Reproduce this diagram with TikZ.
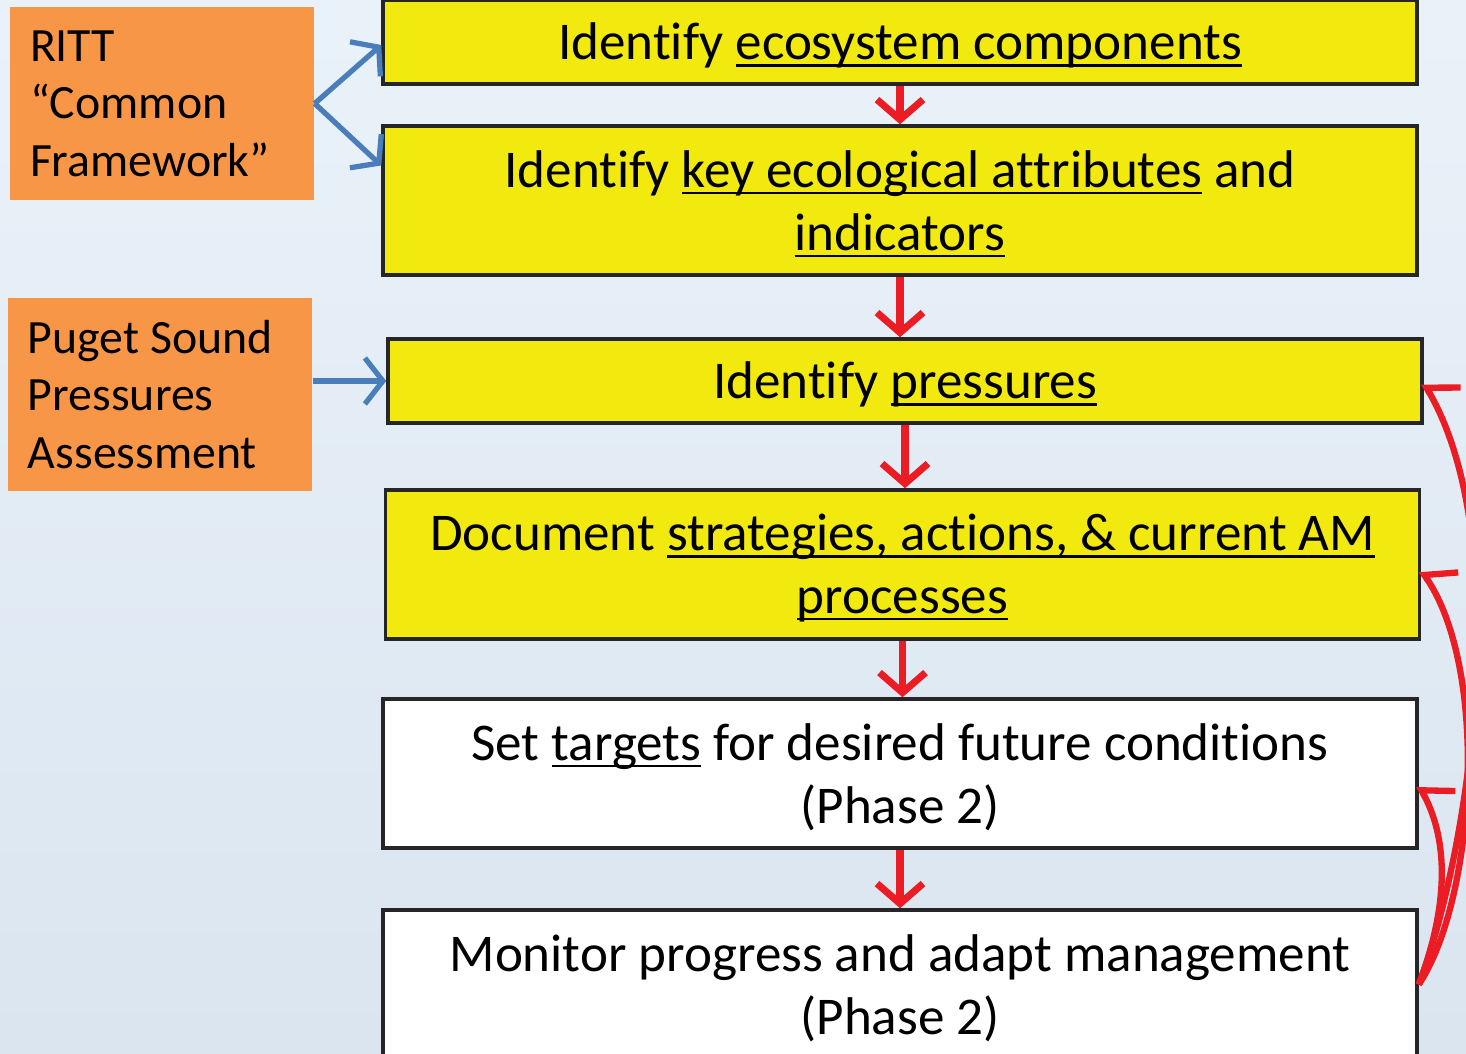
\documentclass[tikz,border=0pt]{standalone}
\usepackage{fontspec}
\setmainfont{Carlito}[Ligatures={TeX,CommonOff}]
\usepackage{tikz}
\usetikzlibrary{arrows.meta,positioning}
\definecolor{stageyellow}{HTML}{F2EA0E}
\definecolor{sourceorange}{HTML}{F79646}
\definecolor{linkblue}{HTML}{4A7EBB}
\definecolor{flowred}{HTML}{EC1C24}
\definecolor{bgtop}{HTML}{EAF2F9}
\definecolor{bgbottom}{HTML}{DAE5F0}
\newcommand\uln[1]{\leavevmode\setbox0\hbox{#1}\rlap{\rule[-2pt]{\wd0}{0.8pt}}\box0\relax}
\tikzset{
	stage/.style = {
			draw            = black!85,
			line width      = 1pt,
			rectangle,
			minimum width   = 10.34cm,
			text width      = 10.2cm,
			align           = center,
			inner sep       = 0pt,
			font            = \fontsize{15.1}{17.9}\selectfont,
			execute at begin node = {\spaceskip=\fontdimen2\font\relax},
			execute at end node = {\par\vspace{-0.07cm}}
		},
	oneline/.style = {minimum height = 0.84cm},
	twoline/.style = {minimum height = 1.49cm},
	source/.style = {
			fill            = sourceorange,
			rectangle,
			minimum width   = 3.04cm,
			minimum height  = 1.93cm,
			text width      = 2.64cm,
			align           = left,
			inner sep       = 0pt,
			font            = \fontsize{13.6}{16.4}\selectfont,
			execute at begin node = {\spaceskip=\fontdimen2\font\relax}
		},
	link/.style = {draw=linkblue, line width=1.5pt, -{Straight Barb[length=1.8mm,width=4.6mm]}},
	flow/.style = {draw=flowred, line width=2pt, -{Straight Barb[length=2mm,width=4.6mm]}},
	feedback/.style = {draw=flowred, line width=1.8pt, -{Straight Barb[angle=120:3.4mm,harpoon,swap]}}
}

\begin{document}
\begin{tikzpicture}
	\useasboundingbox (0,0) rectangle (14.66,-10.54);
	\shade[top color=bgtop, bottom color=bgbottom] (0,0) rectangle (14.66,-10.54);

	\node[source] at (1.62,-1.035) (ritt) {RITT\\``Common\\Framework''};
	\node[source] at (1.60,-3.945) (psa) {Puget Sound\\Pressures\\Assessment};

	\node[stage, oneline, fill=stageyellow] at (9.00,-0.42) (eco) {Identify \uln{ecosystem components}};
	\node[stage, twoline, fill=stageyellow] at (9.00,-2.005) (kea) {Identify \uln{key ecological attributes} and\\\uln{indicators}};
	\node[stage, oneline, fill=stageyellow] at (9.05,-3.81) (press) {Identify \uln{pressures}};
	\node[stage, twoline, fill=stageyellow] at (9.025,-5.645) (doc) {Document \uln{strategies, actions, \& current AM}\\\uln{processes}};
	\node[stage, twoline, fill=white] at (9.00,-7.735) (tgt) {Set \uln{targets} for desired future conditions\\(Phase 2)};
	\node[stage, twoline, fill=white] at (9.00,-9.845) (mon) {Monitor progress and adapt management\\(Phase 2)};

	\draw[link] (ritt.east) -- ([yshift=-0.03cm]eco.west);
	\draw[link] (ritt.east) -- ([yshift=0.35cm]kea.west);
	\draw[link] (psa.east |- press.west) -- (press.west);

	\draw[flow] (eco.south) -- (kea.north);
	\draw[flow] (kea.south) -- (kea.south |- press.north);
	\draw[flow] (press.south) -- (press.south |- doc.north);
	\draw[flow] (doc.south) -- (doc.south |- tgt.north);
	\draw[flow] (tgt.south) -- (mon.north);

	\draw[feedback] (mon.east) .. controls (14.70,-8.50) and (15.15,-5.39) .. ([yshift=-0.02cm]press.east);
	\draw[feedback] (mon.east) .. controls (14.75,-9.00) and (14.90,-6.71) .. ([yshift=-0.06cm]doc.east);
	\draw[feedback] (mon.east) .. controls (14.45,-9.15) and (14.52,-8.46) .. ([yshift=-0.12cm]tgt.east);
\end{tikzpicture}
\end{document}
